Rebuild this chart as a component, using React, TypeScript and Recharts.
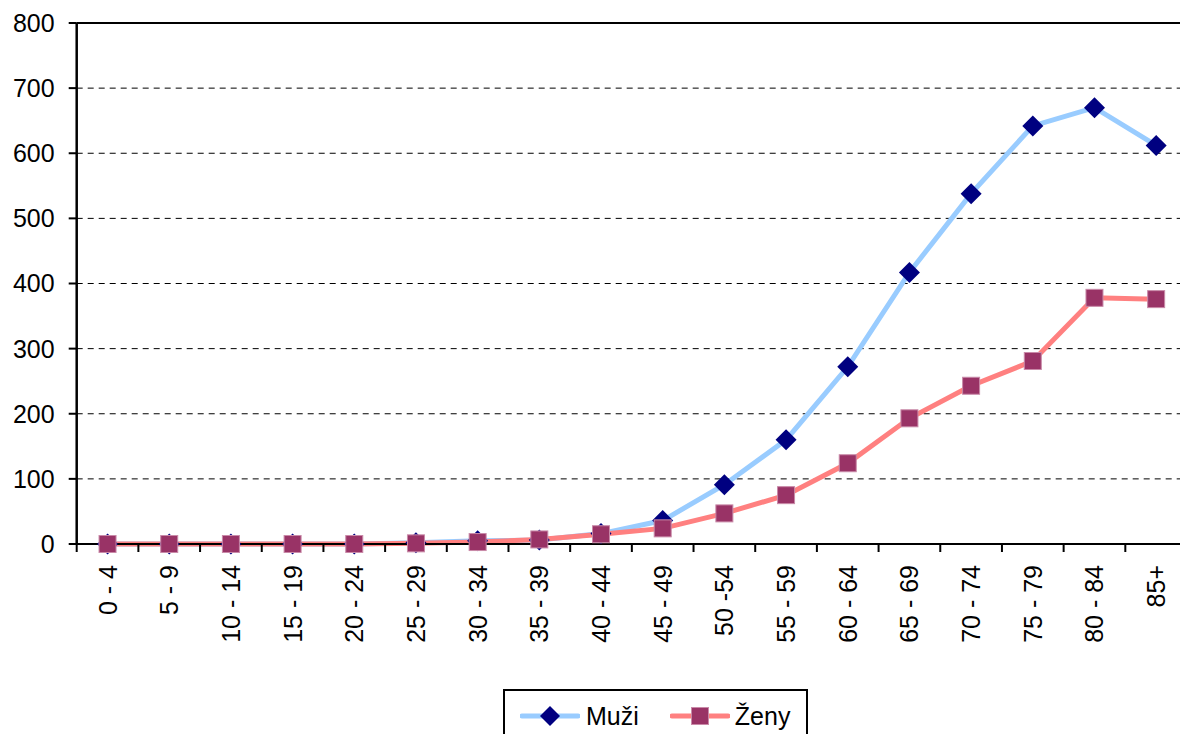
import { LineChart, Line, XAxis, YAxis, CartesianGrid, Legend, ReferenceLine } from 'recharts';

const ageGroups = [
  '0 - 4', '5 - 9', '10 - 14', '15 - 19', '20 - 24', '25 - 29', '30 - 34', '35 - 39', '40 - 44',
  '45 - 49', '50 -54', '55 - 59', '60 - 64', '65 - 69', '70 - 74', '75 - 79', '80 - 84', '85+',
];
const muzi = [0, 0, 0, 0, 0, 2, 5, 6, 16, 36, 91, 160, 272, 417, 538, 642, 670, 612];
const zeny = [0, 0, 0, 0, 0, 1, 3, 7, 15, 24, 47, 75, 124, 193, 243, 281, 378, 376];
const yTicks = [0, 100, 200, 300, 400, 500, 600, 700, 800];

const data = ageGroups.map((age, i) => ({ age, muzi: muzi[i], zeny: zeny[i] }));

const FONT = '"Liberation Sans", Arial, sans-serif';
const W = 1200;
const H = 760;
const PLOT_LEFT = 76.7;
const PLOT_RIGHT = 1187;
const BAND = (PLOT_RIGHT - PLOT_LEFT) / ageGroups.length;

const BLUE_LINE = '#99CCFF';
const BLUE_MARK = '#000080';
const RED_LINE = '#FF8080';
const RED_MARK = '#993366';

function XTick(props: any) {
  const { x, y, payload, index } = props;
  return (
    <g>
      {index === 0 && (
        <line x1={x - BAND / 2} y1={y} x2={x - BAND / 2} y2={y + 8} stroke="#000" strokeWidth={2} />
      )}
      <line x1={x + BAND / 2} y1={y} x2={x + BAND / 2} y2={y + 8} stroke="#000" strokeWidth={2} />
      <text
        transform={`translate(${x},${y}) rotate(-90)`}
        x={-21}
        y={9}
        textAnchor="end"
        fontSize={25}
        fontFamily={FONT}
        fill="#000"
      >
        {payload.value}
      </text>
    </g>
  );
}

function Diamond(props: any) {
  const { cx, cy, index } = props;
  const r = 10.5;
  return (
    <path
      key={`m${index}`}
      d={`M${cx},${cy - r}L${cx + r},${cy}L${cx},${cy + r}L${cx - r},${cy}Z`}
      fill={BLUE_MARK}
    />
  );
}

function Square(props: any) {
  const { cx, cy, index } = props;
  const s = 8.5;
  return (
    <rect
      key={`z${index}`}
      x={cx - s}
      y={cy - s}
      width={s * 2}
      height={s * 2}
      fill={RED_MARK}
      stroke="#c98aa8"
      strokeWidth={1}
    />
  );
}

function LegendBox() {
  return (
    <div
      style={{
        border: '2px solid #000',
        background: '#fff',
        width: 301,
        height: 50,
        display: 'flex',
        alignItems: 'center',
        fontFamily: FONT,
        fontSize: 25,
        color: '#000',
        boxSizing: 'content-box',
      }}
    >
      <svg width={60} height={24} style={{ marginLeft: 15 }}>
        <line x1={2} y1={12} x2={58} y2={12} stroke={BLUE_LINE} strokeWidth={5} strokeLinecap="round" />
        <path d="M30,2L40,12L30,22L20,12Z" fill={BLUE_MARK} />
      </svg>
      <span style={{ marginLeft: 6 }}>Muži</span>
      <svg width={60} height={24} style={{ marginLeft: 31 }}>
        <line x1={2} y1={12} x2={58} y2={12} stroke={RED_LINE} strokeWidth={5} strokeLinecap="round" />
        <rect x={21.5} y={3.5} width={17} height={17} fill={RED_MARK} stroke="#c98aa8" strokeWidth={1} />
      </svg>
      <span style={{ marginLeft: 5 }}>Ženy</span>
    </div>
  );
}

export default function App() {
  return (
    <div
      style={{
        position: 'fixed',
        left: 0,
        top: 0,
        width: 1180,
        height: 734,
        overflow: 'hidden',
        background: '#fff',
      }}
    >
      <LineChart width={W} height={H} data={data} margin={{ top: 23, right: W - PLOT_RIGHT, bottom: 0, left: 0 }}>
        <CartesianGrid horizontal vertical={false} stroke="#000" strokeDasharray="6 5" />
        <XAxis
          dataKey="age"
          interval={0}
          height={216}
          padding={{ left: BAND / 2, right: BAND / 2 }}
          tickSize={0}
          tickMargin={0}
          tickLine={false}
          axisLine={{ stroke: '#000', strokeWidth: 2 }}
          tick={<XTick />}
        />
        <YAxis
          domain={[0, 800]}
          ticks={yTicks}
          interval={0}
          width={PLOT_LEFT}
          tickSize={8}
          tickMargin={14}
          tickLine={{ stroke: '#000', strokeWidth: 2 }}
          axisLine={{ stroke: '#000', strokeWidth: 2.5 }}
          tick={{ fill: '#000', fontSize: 25, fontFamily: FONT }}
        />
        <ReferenceLine y={800} stroke="#000" strokeWidth={2} />
        <Legend
          layout="horizontal"
          verticalAlign="middle"
          align="center"
          wrapperStyle={{ top: 689, left: 503 }}
          content={<LegendBox />}
        />
        <Line
          type="linear"
          dataKey="muzi"
          name="Muži"
          stroke={BLUE_LINE}
          strokeWidth={5}
          dot={<Diamond />}
          activeDot={false}
          isAnimationActive={false}
        />
        <Line
          type="linear"
          dataKey="zeny"
          name="Ženy"
          stroke={RED_LINE}
          strokeWidth={5}
          dot={<Square />}
          activeDot={false}
          isAnimationActive={false}
        />
      </LineChart>
    </div>
  );
}
